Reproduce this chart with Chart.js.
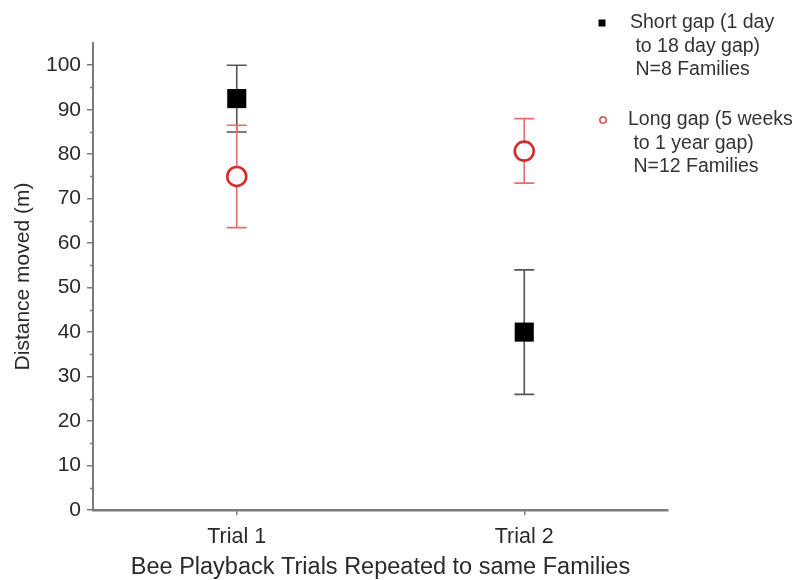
<!DOCTYPE html>
<html><head><meta charset="utf-8">
<script src="https://cdn.jsdelivr.net/npm/chart.js@4"></script>
<style>html,body{margin:0;padding:0;background:#fff}</style>
</head><body>
<canvas id="c" width="800" height="580"></canvas>
<script>
const trials = ['Trial 1', 'Trial 2'];
const trialPos = [1, 2];
const shortMean = [92.5, 40];
const shortLow = [85, 26];
const shortHigh = [100, 54];
const longMean = [75, 80.7];
const longLow = [63.5, 73.5];
const longHigh = [86.5, 88];
const yMajorTicks = [0, 10, 20, 30, 40, 50, 60, 70, 80, 90, 100];
const yMinorTicks = [5, 15, 25, 35, 45, 55, 65, 75, 85, 95];
const legendShort = ['Short gap (1 day', ' to 18 day gap)', ' N=8 Families'];
const legendLong = ['Long gap (5 weeks', ' to 1 year gap)', ' N=12 Families'];

const FONT = '"Liberation Sans", Arial, sans-serif';
const RED = 'rgb(214,44,44)';
const RED_BAR = 'rgb(226,110,110)';
const AXIS = '#7a7a7a';
const TXT = '#2a2a2a';

const errorBars = {
  id: 'errorBars',
  beforeDatasetsDraw(chart) {
    const ctx = chart.ctx, xs = chart.scales.x, ys = chart.scales.y;
    chart.data.datasets.forEach(ds => {
      ctx.save();
      ctx.strokeStyle = ds.errColor;
      ctx.lineWidth = 1.6;
      ds.data.forEach((p, i) => {
        const x = xs.getPixelForValue(p.x);
        const yl = ys.getPixelForValue(ds.errLow[i]);
        const yh = ys.getPixelForValue(ds.errHigh[i]);
        const cw = 10;
        ctx.beginPath();
        ctx.moveTo(x, yl); ctx.lineTo(x, yh);
        ctx.moveTo(x - cw, yl); ctx.lineTo(x + cw, yl);
        ctx.moveTo(x - cw, yh); ctx.lineTo(x + cw, yh);
        ctx.stroke();
      });
      ctx.restore();
    });
  },
  afterDraw(chart) {
    const ctx = chart.ctx, ys = chart.scales.y;
    const x0 = ys.right;
    ctx.save();
    ctx.strokeStyle = AXIS;
    ctx.lineWidth = 1.5;
    yMinorTicks.forEach(v => {
      const y = Math.round(ys.getPixelForValue(v)) + 0.5;
      ctx.beginPath(); ctx.moveTo(x0 - 3, y); ctx.lineTo(x0, y); ctx.stroke();
    });
    // legend
    ctx.font = '19.5px ' + FONT;
    ctx.fillStyle = '#333';
    ctx.textBaseline = 'middle';
    ctx.textAlign = 'left';
    const lh = 23.5;
    legendShort.forEach((t, i) => ctx.fillText(t, 630, 23 + i * lh));
    legendLong.forEach((t, i) => ctx.fillText(t, 628, 120 + i * lh));
    ctx.fillStyle = '#000';
    ctx.fillRect(598.5, 19.5, 7, 7);
    ctx.strokeStyle = RED;
    ctx.lineWidth = 1.3;
    ctx.beginPath(); ctx.arc(603, 120, 3.2, 0, Math.PI * 2); ctx.stroke();
    ctx.restore();
  }
};

new Chart(document.getElementById('c'), {
  type: 'scatter',
  data: {
    datasets: [
      {
        label: 'Short gap',
        data: trialPos.map((x, i) => ({ x, y: shortMean[i] })),
        errLow: shortLow, errHigh: shortHigh, errColor: '#555',
        pointStyle: 'rect', pointRadius: 13.5, backgroundColor: '#000', borderColor: '#000', borderWidth: 0
      },
      {
        label: 'Long gap',
        data: trialPos.map((x, i) => ({ x, y: longMean[i] })),
        errLow: longLow, errHigh: longHigh, errColor: RED_BAR,
        pointStyle: 'circle', pointRadius: 9.5, backgroundColor: '#fff', borderColor: RED, borderWidth: 2.6
      }
    ]
  },
  plugins: [errorBars],
  options: {
    responsive: false,
    animation: false,
    events: [],
    layout: { padding: { left: 0, right: 132, top: 43, bottom: 0 } },
    plugins: { legend: { display: false }, tooltip: { enabled: false } },
    scales: {
      x: {
        type: 'linear', min: 0.5, max: 2.5,
        afterBuildTicks(s) { s.ticks = trialPos.map(v => ({ value: v })); },
        afterFit(s) { s.height = 70; },
        ticks: {
          callback: (v) => trials[trialPos.indexOf(v)] || '',
          color: TXT, font: { family: FONT, size: 21.5 }, padding: 9, maxRotation: 0
        },
        grid: { drawOnChartArea: false, tickLength: 5, color: AXIS, lineWidth: 1.5 },
        border: { color: AXIS, width: 2.5 },
        title: { display: true, text: 'Bee Playback Trials Repeated to same Families', color: TXT, font: { family: FONT, size: 23.5 }, padding: { top: 0, bottom: -2 } }
      },
      y: {
        min: 0, max: 105,
        afterBuildTicks(s) { s.ticks = yMajorTicks.map(v => ({ value: v })); },
        afterFit(s) { s.width = 93; },
        ticks: { color: TXT, font: { family: FONT, size: 21 }, padding: 6 },
        grid: { drawOnChartArea: false, tickLength: 6, color: AXIS, lineWidth: 1.5 },
        border: { color: AXIS, width: 2 },
        title: { display: true, text: 'Distance moved (m)', color: TXT, font: { family: FONT, size: 21 }, padding: { top: 11, bottom: 0 } }
      }
    }
  }
});
</script>
</body></html>
